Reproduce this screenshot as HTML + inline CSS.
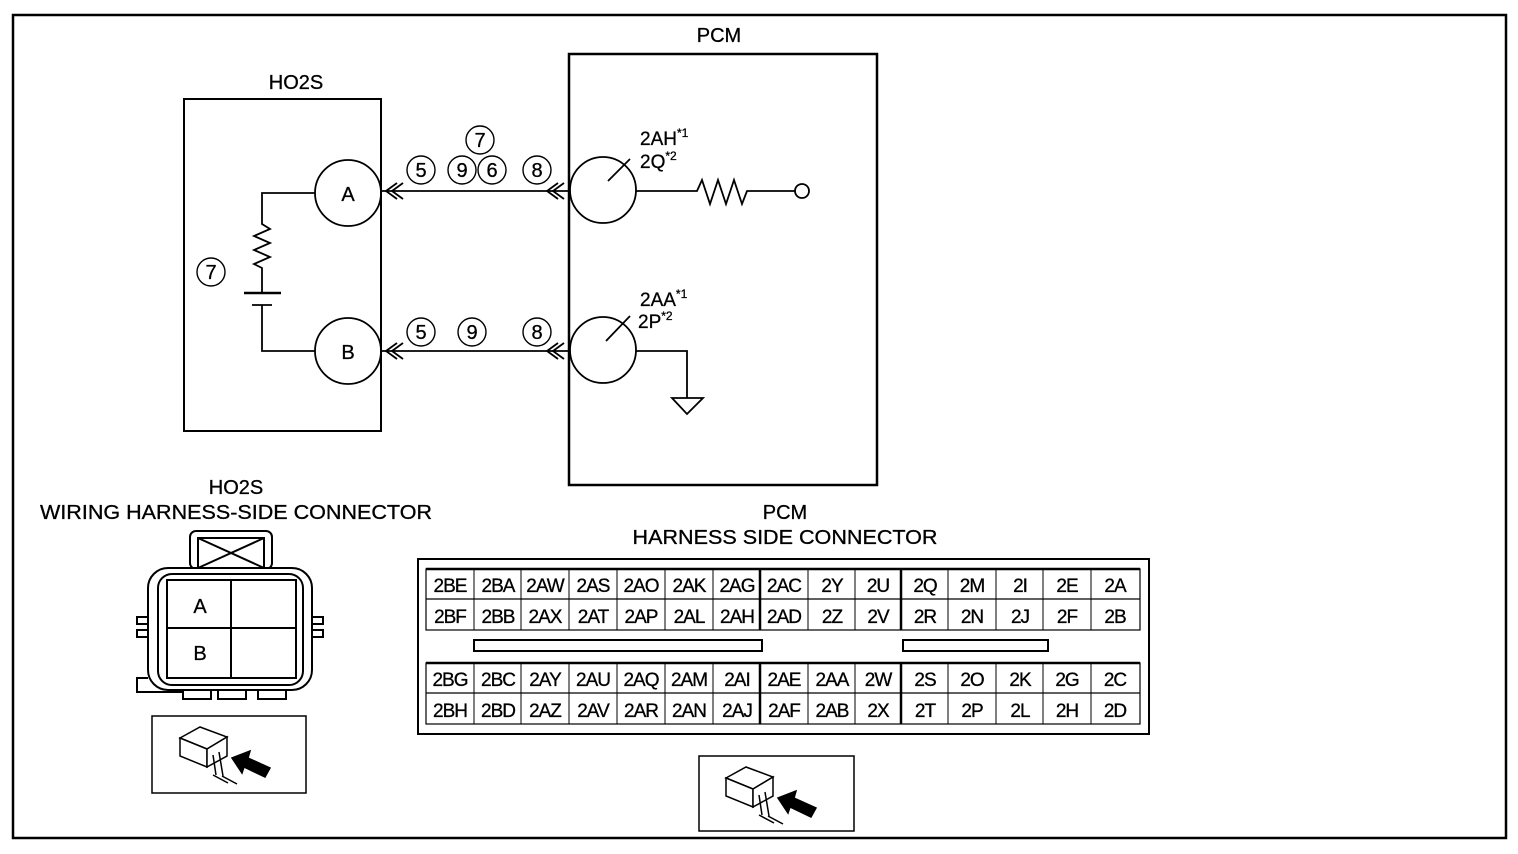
<!DOCTYPE html>
<html><head><meta charset="utf-8"><style>
html,body{margin:0;padding:0;background:#fff;}
svg{display:block;font-family:"Liberation Sans",Arial,sans-serif;}
</style></head><body>
<svg width="1518" height="854" viewBox="0 0 1518 854" xmlns="http://www.w3.org/2000/svg">
<rect x="0" y="0" width="1518" height="854" fill="#fff"/>
<rect x="13" y="15" width="1493" height="823" fill="none" stroke="#000" stroke-width="2.5"/>

<g font-size="20" text-anchor="middle" fill="#000" stroke="#000" stroke-width="0.3">
<text x="719" y="42">PCM</text>
<text x="296" y="89">HO2S</text>
<text x="236" y="494">HO2S</text>
<text x="236" y="519" textLength="392" lengthAdjust="spacingAndGlyphs">WIRING HARNESS-SIDE CONNECTOR</text>
<text x="785" y="519">PCM</text>
<text x="785" y="544" textLength="305" lengthAdjust="spacingAndGlyphs">HARNESS SIDE CONNECTOR</text>
</g>

<rect x="184" y="99" width="197" height="332" fill="none" stroke="#000" stroke-width="2"/>
<rect x="569" y="54" width="308" height="431" fill="none" stroke="#000" stroke-width="2.5"/>

<g fill="none" stroke="#000" stroke-width="1.8">
<circle cx="348" cy="193" r="33"/>
<circle cx="348" cy="351" r="33"/>
<circle cx="603" cy="190" r="33"/>
<circle cx="603" cy="350" r="33"/>
<line x1="381" y1="191" x2="569" y2="191"/>
<line x1="381" y1="351" x2="569" y2="351"/>
<polyline points="397,183 386,191 397,199"/><polyline points="403,183 392,191 403,199"/>
<polyline points="558,183 547,191 558,199"/><polyline points="564,183 553,191 564,199"/>
<polyline points="397,343 386,351 397,359"/><polyline points="403,343 392,351 403,359"/>
<polyline points="558,343 547,351 558,359"/><polyline points="564,343 553,351 564,359"/>
<line x1="608" y1="181" x2="630" y2="159"/>
<line x1="606" y1="341" x2="630" y2="316"/>
<polyline points="636,191 697,191 702,180 710,204 718,180 726,204 734,180 742,204 747,191 795,191"/>
<circle cx="802" cy="191" r="7"/>
<polyline points="636,351 687,351 687,398"/>
<polygon points="672,398 703,398 687,414"/>
<polyline points="315,193 262,193 262,224 270,229 254,236 270,243 254,250 270,257 254,264 262,268 262,292"/>
<line x1="244" y1="293" x2="281" y2="293" stroke-width="2.5"/>
<line x1="252" y1="305" x2="272" y2="305"/>
<polyline points="262,305 262,351 315,351"/>
</g>

<g font-size="20" text-anchor="middle" fill="#000" stroke="#000" stroke-width="0.3">
<text x="348" y="201">A</text>
<text x="348" y="359">B</text>
</g>
<g font-size="19" fill="#000" stroke="#000" stroke-width="0.3">
<text x="640" y="145">2AH<tspan font-size="12" dy="-8">*1</tspan></text>
<text x="640" y="168">2Q<tspan font-size="12" dy="-8">*2</tspan></text>
<text x="640" y="306">2AA<tspan font-size="12" dy="-8">*1</tspan></text>
<text x="638" y="328">2P<tspan font-size="12" dy="-8">*2</tspan></text>
</g>

<g font-size="20" text-anchor="middle" fill="#000" stroke="#000" stroke-width="0.3">
<g fill="none" stroke="#000" stroke-width="1.4">
<circle cx="480" cy="140" r="14"/><circle cx="421" cy="170" r="14"/><circle cx="462" cy="170" r="14"/><circle cx="492" cy="170" r="14"/><circle cx="537" cy="170" r="14"/>
<circle cx="421" cy="332" r="14"/><circle cx="472" cy="332" r="14"/><circle cx="537" cy="332" r="14"/><circle cx="211" cy="272" r="14"/>
</g>
<text x="480" y="147">7</text><text x="421" y="177">5</text><text x="462" y="177">9</text><text x="492" y="177">6</text><text x="537" y="177">8</text>
<text x="421" y="339">5</text><text x="472" y="339">9</text><text x="537" y="339">8</text><text x="211" y="279">7</text>
</g>

<g fill="none" stroke="#000" stroke-width="2">
<rect x="190" y="531" width="82" height="38" rx="6"/>
<rect x="198" y="538" width="66" height="30"/>
<line x1="198" y1="538" x2="264" y2="568"/><line x1="264" y1="538" x2="198" y2="568"/>
<rect x="148" y="568" width="164" height="122" rx="20" fill="#fff"/>
<rect x="158" y="574" width="145" height="111" rx="14"/>
<rect x="167" y="580" width="129" height="98"/>
<line x1="231" y1="580" x2="231" y2="678"/>
<line x1="167" y1="628" x2="296" y2="628"/>
<rect x="137" y="617" width="11" height="7"/><rect x="137" y="630" width="11" height="7"/>
<rect x="312" y="617" width="11" height="7"/><rect x="312" y="630" width="11" height="7"/>
<polyline points="148,678 137,678 137,692 183,692"/>
<rect x="183" y="690" width="28" height="9"/><rect x="218" y="690" width="28" height="9"/><rect x="258" y="690" width="28" height="9"/>
</g>
<g font-size="20" text-anchor="middle" stroke="#000" stroke-width="0.3"><text x="200" y="613">A</text><text x="200" y="660">B</text></g>

<g fill="none" stroke="#000" stroke-width="1.5">
<rect x="152" y="716" width="154" height="77"/>
<rect x="699" y="756" width="155" height="75"/>
</g>
<g id="ic" fill="none" stroke="#000" stroke-width="1.5">
<polygon points="180,738 200,727 227,737 207,749" fill="#fff"/>
<polygon points="180,738 207,749 207,767 180,756" fill="#fff"/>
<polygon points="207,749 227,737 227,756 207,767" fill="#fff"/>
<path d="M213 755 l3 20 M219 752 l4 24 M213 775 l15 8 M222 776 l15 8"/>
<polygon points="232,758 250,751 248,758 270,768 265,777 244,767 242,773" fill="#000"/>
</g>
<use href="#ic" x="546" y="40"/>

<rect x="418" y="559" width="731" height="175" fill="none" stroke="#000" stroke-width="2"/>
<g fill="none" stroke="#000" stroke-width="1.2">
<rect x="426" y="569" width="714" height="61"/>
<line x1="426" y1="599" x2="1140" y2="599"/>
<rect x="426" y="663" width="714" height="61"/>
<line x1="426" y1="693" x2="1140" y2="693"/>
<line x1="426" y1="569" x2="1140" y2="569" stroke-width="2.5"/>
<line x1="426" y1="663" x2="1140" y2="663" stroke-width="2.5"/>
<rect x="474" y="640" width="288" height="11" stroke-width="2"/>
<rect x="903" y="640" width="145" height="11" stroke-width="2"/>
</g>
<g stroke="#000" stroke-width="1">
<line x1="474" y1="569" x2="474" y2="630"/><line x1="521" y1="569" x2="521" y2="630"/><line x1="569" y1="569" x2="569" y2="630"/><line x1="617" y1="569" x2="617" y2="630"/><line x1="665" y1="569" x2="665" y2="630"/><line x1="713" y1="569" x2="713" y2="630"/><line x1="760" y1="569" x2="760" y2="630" stroke-width="2.5"/><line x1="808" y1="569" x2="808" y2="630"/><line x1="855" y1="569" x2="855" y2="630"/><line x1="901" y1="569" x2="901" y2="630" stroke-width="2.5"/><line x1="948" y1="569" x2="948" y2="630"/><line x1="996" y1="569" x2="996" y2="630"/><line x1="1043" y1="569" x2="1043" y2="630"/><line x1="1091" y1="569" x2="1091" y2="630"/>
<line x1="474" y1="663" x2="474" y2="724"/><line x1="521" y1="663" x2="521" y2="724"/><line x1="569" y1="663" x2="569" y2="724"/><line x1="617" y1="663" x2="617" y2="724"/><line x1="665" y1="663" x2="665" y2="724"/><line x1="713" y1="663" x2="713" y2="724"/><line x1="760" y1="663" x2="760" y2="724" stroke-width="2.5"/><line x1="808" y1="663" x2="808" y2="724"/><line x1="855" y1="663" x2="855" y2="724"/><line x1="901" y1="663" x2="901" y2="724" stroke-width="2.5"/><line x1="948" y1="663" x2="948" y2="724"/><line x1="996" y1="663" x2="996" y2="724"/><line x1="1043" y1="663" x2="1043" y2="724"/><line x1="1091" y1="663" x2="1091" y2="724"/>
</g>
<g font-size="19" text-anchor="middle" fill="#000" letter-spacing="-1" stroke="#000" stroke-width="0.3">
<text y="592"><tspan x="450">2BE</tspan><tspan x="498">2BA</tspan><tspan x="545">2AW</tspan><tspan x="593">2AS</tspan><tspan x="641">2AO</tspan><tspan x="689">2AK</tspan><tspan x="737">2AG</tspan><tspan x="784">2AC</tspan><tspan x="832">2Y</tspan><tspan x="878">2U</tspan><tspan x="925">2Q</tspan><tspan x="972">2M</tspan><tspan x="1020">2I</tspan><tspan x="1067">2E</tspan><tspan x="1115">2A</tspan></text>
<text y="623"><tspan x="450">2BF</tspan><tspan x="498">2BB</tspan><tspan x="545">2AX</tspan><tspan x="593">2AT</tspan><tspan x="641">2AP</tspan><tspan x="689">2AL</tspan><tspan x="737">2AH</tspan><tspan x="784">2AD</tspan><tspan x="832">2Z</tspan><tspan x="878">2V</tspan><tspan x="925">2R</tspan><tspan x="972">2N</tspan><tspan x="1020">2J</tspan><tspan x="1067">2F</tspan><tspan x="1115">2B</tspan></text>
<text y="686"><tspan x="450">2BG</tspan><tspan x="498">2BC</tspan><tspan x="545">2AY</tspan><tspan x="593">2AU</tspan><tspan x="641">2AQ</tspan><tspan x="689">2AM</tspan><tspan x="737">2AI</tspan><tspan x="784">2AE</tspan><tspan x="832">2AA</tspan><tspan x="878">2W</tspan><tspan x="925">2S</tspan><tspan x="972">2O</tspan><tspan x="1020">2K</tspan><tspan x="1067">2G</tspan><tspan x="1115">2C</tspan></text>
<text y="717"><tspan x="450">2BH</tspan><tspan x="498">2BD</tspan><tspan x="545">2AZ</tspan><tspan x="593">2AV</tspan><tspan x="641">2AR</tspan><tspan x="689">2AN</tspan><tspan x="737">2AJ</tspan><tspan x="784">2AF</tspan><tspan x="832">2AB</tspan><tspan x="878">2X</tspan><tspan x="925">2T</tspan><tspan x="972">2P</tspan><tspan x="1020">2L</tspan><tspan x="1067">2H</tspan><tspan x="1115">2D</tspan></text>
</g>
</svg>
</body></html>
